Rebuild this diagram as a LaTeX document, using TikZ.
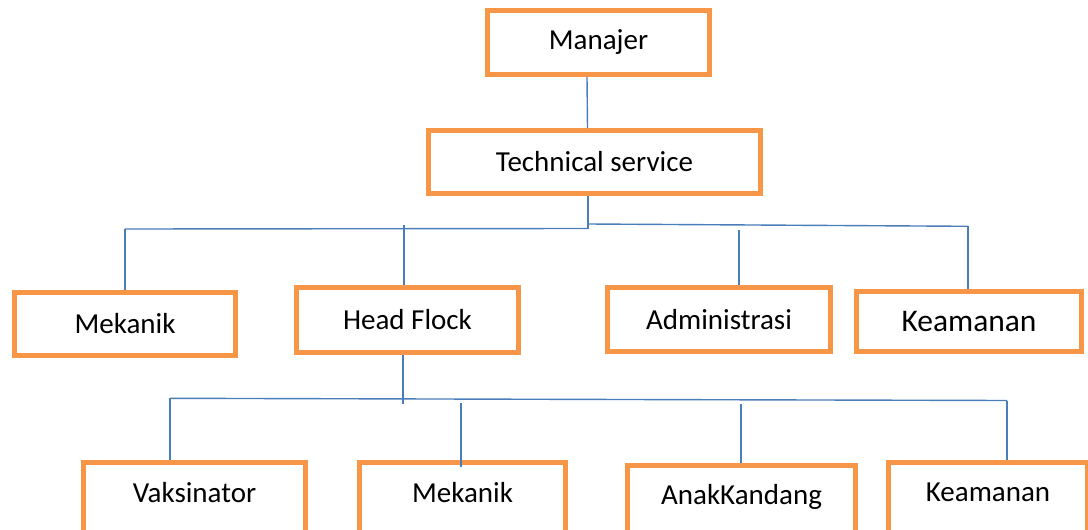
\documentclass[tikz,border=0pt]{standalone}
\usepackage{fontspec}
\setmainfont{Carlito}
\definecolor{boxorange}{HTML}{F79646}
\definecolor{lineblue}{HTML}{4A7EBB}
\newcommand{\lift}[1]{\raisebox{20pt}{#1}}
\begin{document}
\begin{tikzpicture}[x=1pt,y=-1pt,
  box/.style={draw=boxorange, line width=5pt, fill=white, inner sep=0pt, text=black,
    font=\fontsize{29}{34}\selectfont},
  conn/.style={draw=lineblue, line width=1.4pt}]
\useasboundingbox (0,0) rectangle (1088,530);
% boxes
\node[box, minimum width=222pt, minimum height=64pt] (man) at (598.5,42.5) {Manajer};
\node[box, minimum width=332pt, minimum height=63pt] (ts) at (594.5,162) {Technical service};
\node[box, minimum width=221pt, minimum height=63pt] (mek1) at (125,324) {Mekanik};
\node[box, minimum width=222pt, minimum height=65pt] (hf) at (407.5,320) {Head Flock};
\node[box, minimum width=223pt, minimum height=64pt] (adm) at (719,319.5) {Administrasi};
\node[box, minimum width=225pt, minimum height=60pt, font=\fontsize{31.5}{36}\selectfont] (kea1) at (969,321.5) {Keamanan};
\node[box, minimum width=222pt, minimum height=80pt] (vak) at (194.5,502.5) {\lift{Vaksinator}};
\node[box, minimum width=206pt, minimum height=80pt] (mek2) at (462.5,502.5) {\lift{Mekanik}};
\node[box, minimum width=228pt, minimum height=77pt] (ank) at (741.5,504) {\lift{AnakKandang}};
\node[box, minimum width=199pt, minimum height=80pt] (kea2) at (988,502.5) {\lift{Keamanan}};
% level 1 bus
\coordinate (tsb) at (588,228.5);
\coordinate (b1a) at (125,229);
\coordinate (b1b) at (404,227.5);
\coordinate (b1m) at (588,224);
\coordinate (b1c) at (739,225);
\coordinate (b1d) at (968,226.3);
\draw[conn] ([xshift=-11.5pt]man.south) -- ([xshift=-7pt]ts.north);
\draw[conn] ([xshift=-6.5pt]ts.south) -- (tsb);
\draw[conn] (b1a) -- (tsb);
\draw[conn] (b1m) -- (b1d);
\draw[conn] (b1a) -- (b1a |- mek1.north);
\draw[conn] ([yshift=3pt]b1b) -- (b1b |- hf.north);
\draw[conn] ([yshift=-5pt]b1c) -- (b1c |- adm.north);
\draw[conn] (b1d) -- (b1d |- kea1.north);
% level 2 bus
\coordinate (hfb) at (403,404);
\coordinate (b2a) at (170,398.3);
\coordinate (b2b) at (461,403);
\coordinate (b2c) at (741,402);
\coordinate (b2d) at (1007,400.5);
\draw[conn] ([xshift=-4.5pt]hf.south) -- (hfb);
\draw[conn] (b2a) -- (b2d);
\draw[conn] (b2a) -- (b2a |- vak.north);
\draw[conn] (b2b) -- ([yshift=-7pt]b2b |- mek2.north);
\draw[conn] ([yshift=-2pt]b2c) -- (b2c |- ank.north);
\draw[conn] (b2d) -- (b2d |- kea2.north);
\end{tikzpicture}
\end{document}
